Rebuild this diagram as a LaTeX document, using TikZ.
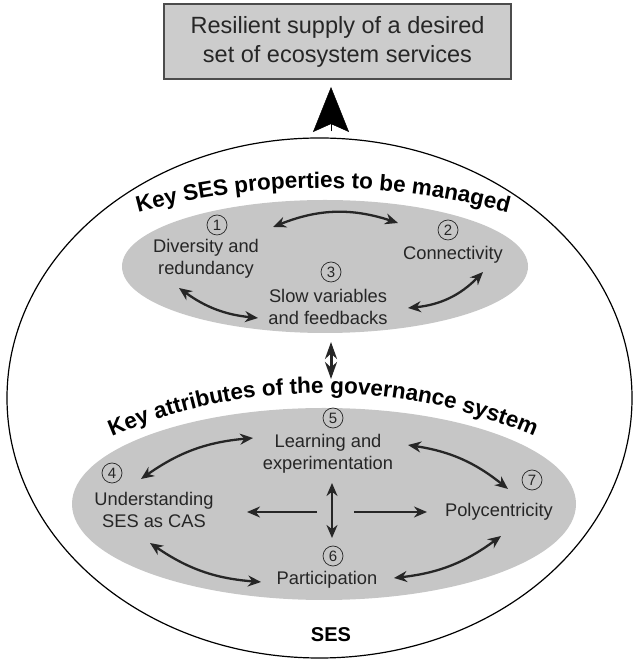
\documentclass[tikz,border=0pt]{standalone}
\usepackage{fontspec}
\setmainfont{Liberation Sans}
\usetikzlibrary{shapes.geometric,arrows.meta,decorations.text}

\begin{document}
\begin{tikzpicture}[x=1pt,y=1pt,
  blob/.style={ellipse,fill=gray!45,inner sep=0pt},
  num/.style={circle,draw=black!85,line width=0.7pt,minimum size=20pt,inner sep=0pt,text=black!85,font=\fontsize{15}{15}\selectfont},
  item/.style={align=center,text=black!85,font=\fontsize{18.3}{22}\selectfont},
  dbl/.style={{Stealth[length=13pt,width=11pt]}-{Stealth[length=13pt,width=11pt]},line width=2.3pt,black!85},
  sgl/.style={-{Stealth[length=13pt,width=11pt]},line width=2.3pt,black!85}]
\useasboundingbox (0,0) rectangle (633,660);

\node [draw=black!70,line width=1.6pt,fill=gray!40,minimum width=347pt,minimum height=75pt,align=center,text=black!85,font=\fontsize{23.5}{29}\selectfont] (goal) at (337.5,618.5) {Resilient supply of a desired\\set of ecosystem services};

\node [ellipse,draw,line width=1.2pt,minimum width=625pt,minimum height=520pt,inner sep=0pt] (ses) at (319.5,262) {};
\node [font=\fontsize{20}{24}\selectfont\bfseries] (seslab) at (331,25) {SES};

\coordinate (tip) at (331,573);
\draw [-{Stealth[length=45pt,width=36pt,inset=8pt]},line width=0.4pt,shorten <=6pt] (ses.north -| tip) -- (tip);

\node [blob,minimum width=406pt,minimum height=133pt] (props) at (325,393.5) {};
\node [blob,minimum width=504pt,minimum height=192pt] (gov) at (324,156) {};

\path [decorate,decoration={text along path,text align=center,text={|\fontsize{22.5}{27}\selectfont\bfseries|Key SES properties to be managed}}] ([shift={(115:710)}]323,-238) arc[start angle=115,end angle=65,radius=710];
\path [decorate,decoration={text along path,text align=center,text={|\fontsize{22.5}{27}\selectfont\bfseries|Key attributes of the governance system}}] ([shift={(120:533)}]323,-266) arc[start angle=120,end angle=60,radius=533];

\node [num] (n1) at (217,435) {1};
\node [item] (div) at (206,401) {Diversity and\\redundancy};
\node [num] (n2) at (448,430) {2};
\node [item] (con) at (453,405) {Connectivity};
\node [num] (n3) at (331,388) {3};
\node [item] (slow) at (328,353) {Slow variables\\and feedbacks};

\node [num] (n5) at (333,242) {5};
\node [item] (learn) at (328,206.5) {Learning and\\experimentation};
\node [num] (n4) at (112,187) {4};
\node [item] (und) at (154,150) {Understanding\\SES as CAS};
\node [num] (n7) at (532,180) {7};
\node [item] (poly) at (499,148) {Polycentricity};
\node [num] (n6) at (333,104) {6};
\node [item] (part) at (327,80) {Participation};

\foreach \p/\x/\y in {dc1/273/433, dc2/398/437, ds1/179/372, ds2/258/342, cs1/483/388, cs2/408/352,
  pg1/331/318, pg2/331/281, ul1/141/181, ul2/253/222, lp1/408/215, lp2/508/171,
  up1/150/117, up2/261/78, pp1/394/82, pp2/501/124, lv1/332/177, lv2/332/122,
  lh0/317/148, lh1/247/148, rh0/354/148, rh1/427/148}
  \coordinate (\p) at (\x,\y);

\draw [dbl] (dc1) to[bend left=20] (dc2);
\draw [dbl] (ds1) to[bend right=15] (ds2);
\draw [dbl] (cs1) to[bend left=20] (cs2);
\draw [dbl,line width=3pt,{Stealth[length=17pt,width=12pt]}-{Stealth[length=17pt,width=12pt]}] (pg1) -- (pg2);
\draw [dbl] (ul1) to[bend left=15] (ul2);
\draw [dbl] (lp1) to[bend left=15] (lp2);
\draw [dbl] (up1) to[bend right=15] (up2);
\draw [dbl] (pp1) to[bend right=15] (pp2);
\draw [dbl] (lv1) -- (lv2);
\draw [sgl] (lh0) -- (lh1);
\draw [sgl] (rh0) -- (rh1);
\end{tikzpicture}
\end{document}
